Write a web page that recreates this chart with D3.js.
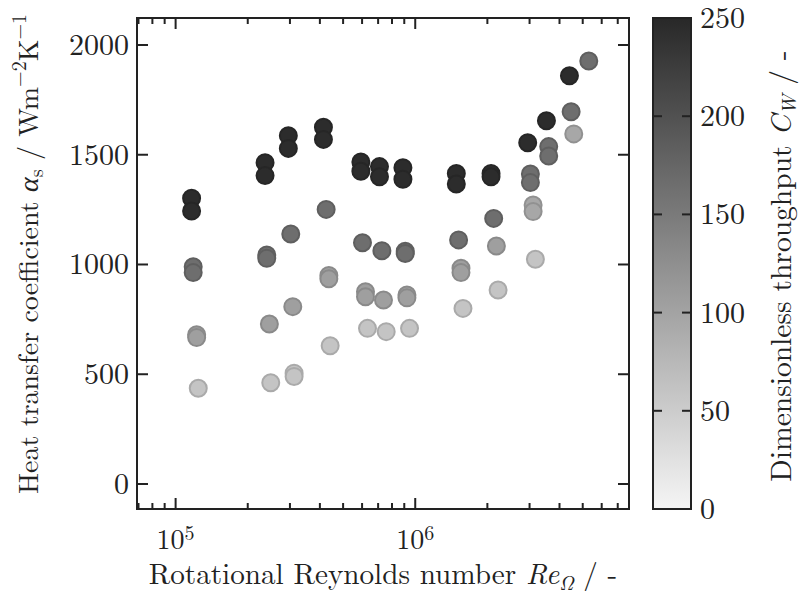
<!DOCTYPE html>
<html lang="en">
<head>
<meta charset="UTF-8">
<title>Heat transfer coefficient vs rotational Reynolds number</title>
<script src="https://cdn.jsdelivr.net/npm/d3@7/dist/d3.min.js"></script>
<style>
  body { margin: 0; background: #fff; }
  svg { display: block; font-family: 'Latin Modern Roman', 'Liberation Serif', serif; }
</style>
</head>
<body>
<svg id="chart" width="800" height="600"></svg>
<script>
  // rotational Reynolds number Re_Omega
  const reynolds = [
    1.166e5, 1.166e5, 1.184e5, 1.184e5, 1.224e5, 1.224e5, 1.243e5,
    2.362e5, 2.362e5, 2.401e5, 2.401e5, 2.462e5, 2.495e5,
    2.954e5, 2.954e5, 3.024e5, 3.083e5, 3.122e5, 3.122e5,
    4.139e5, 4.139e5, 4.248e5, 4.360e5, 4.360e5, 4.415e5,
    5.931e5, 5.931e5, 6.024e5, 6.200e5, 6.200e5, 6.321e5,
    7.093e5, 7.093e5, 7.258e5, 7.371e5, 7.565e5,
    8.884e5, 8.884e5, 9.083e5, 9.083e5, 9.233e5, 9.233e5, 9.467e5,
    1.484e6, 1.484e6, 1.517e6, 1.552e6, 1.552e6, 1.582e6,
    2.072e6, 2.072e6, 2.125e6, 2.181e6, 2.217e6,
    2.947e6, 3.024e6, 3.024e6, 3.104e6, 3.104e6, 3.173e6,
    3.528e6, 3.606e6, 3.606e6,
    4.401e6, 4.473e6, 4.587e6,
    5.300e6
  ];
  // heat transfer coefficient alpha_s in W m^-2 K^-1
  const alphaS = [
    1302, 1244, 990, 963, 680, 667, 436,
    1464, 1405, 1043, 1028, 729, 461,
    1587, 1529, 1139, 808, 505, 490,
    1625, 1570, 1251, 950, 935, 630,
    1467, 1425, 1099, 876, 853, 709,
    1446, 1400, 1063, 838, 694,
    1441, 1388, 1060, 1050, 861, 848, 709,
    1415, 1367, 1112, 983, 963, 800,
    1415, 1400, 1210, 1084, 884,
    1555, 1412, 1373, 1271, 1241, 1024,
    1655, 1537, 1494,
    1860, 1696, 1595,
    1927
  ];
  // dimensionless throughput C_W
  const throughput = [
    245, 245, 165, 165, 105, 105, 60,
    245, 245, 165, 165, 105, 60,
    245, 245, 165, 105, 60, 60,
    245, 245, 165, 105, 105, 60,
    245, 245, 165, 105, 105, 60,
    245, 245, 165, 105, 60,
    245, 245, 165, 165, 105, 105, 60,
    245, 245, 165, 105, 105, 60,
    245, 245, 165, 105, 60,
    245, 165, 165, 95, 95, 60,
    245, 165, 165,
    245, 165, 95,
    165
  ];

  const yTicks = [0, 500, 1000, 1500, 2000];
  const xTicks = [1e5, 1e6];
  const xTickExp = ["5", "6"];
  const cbTicks = [0, 50, 100, 150, 200, 250];

  const svg = d3.select("#chart");
  const ink = "#222";

  const plot = { left: 137, right: 629, top: 18, bottom: 509 };

  const x = d3.scaleLog().domain([6.9e4, 7.8e6]).range([plot.left, plot.right]);
  const y = d3.scaleLinear().domain([-114, 2123]).range([plot.bottom, plot.top]);
  const color = d3.scaleLinear().domain([0, 250]).range(["#f5f5f5", "#282828"]);

  const points = reynolds.map((re, i) => ({ re, a: alphaS[i], cw: throughput[i] }));

  // markers
  svg.append("g")
    .selectAll("circle")
    .data(points)
    .join("circle")
    .attr("cx", d => x(d.re))
    .attr("cy", d => y(d.a))
    .attr("r", 8.5)
    .attr("fill", d => color(d.cw))
    .attr("stroke", d => d3.color(color(d.cw)).darker(0.4))
    .attr("stroke-width", 2);

  // ticks (inside, all four sides)
  const minor = [];
  for (let e = 4; e <= 6; e++) {
    for (let k = 2; k <= 9; k++) {
      const v = k * Math.pow(10, e);
      if (v > x.domain()[0] && v < x.domain()[1]) minor.push(v);
    }
  }
  const tickG = svg.append("g").attr("stroke", ink).attr("stroke-width", 2);
  [[plot.bottom, -1], [plot.top, 1]].forEach(([yy, dir]) => {
    tickG.selectAll(null).data(xTicks).join("line")
      .attr("x1", d => x(d)).attr("x2", d => x(d))
      .attr("y1", yy).attr("y2", yy + dir * 11);
    tickG.selectAll(null).data(minor).join("line")
      .attr("x1", d => x(d)).attr("x2", d => x(d))
      .attr("y1", yy).attr("y2", yy + dir * 6);
  });
  [[plot.left, 1], [plot.right, -1]].forEach(([xx, dir]) => {
    tickG.selectAll(null).data(yTicks).join("line")
      .attr("x1", xx).attr("x2", xx + dir * 11)
      .attr("y1", d => y(d)).attr("y2", d => y(d));
  });

  // frame
  svg.append("rect")
    .attr("x", plot.left).attr("y", plot.top)
    .attr("width", plot.right - plot.left).attr("height", plot.bottom - plot.top)
    .attr("fill", "none").attr("stroke", ink).attr("stroke-width", 2);

  // tick labels
  svg.append("g").selectAll("text").data(yTicks).join("text")
    .attr("x", 129).attr("y", d => y(d)).attr("dy", "0.33em")
    .attr("text-anchor", "end").attr("font-size", 30).attr("fill", ink)
    .text(d => String(d));

  const xl = svg.append("g").selectAll("text").data(xTicks).join("text")
    .attr("x", d => x(d)).attr("y", 549)
    .attr("text-anchor", "middle").attr("font-size", 28).attr("fill", ink);
  xl.append("tspan").text("10");
  xl.append("tspan").attr("dy", "-0.45em").attr("font-size", 20).text((d, i) => xTickExp[i]);

  // axis labels
  const xlab = svg.append("text")
    .attr("x", (plot.left + plot.right) / 2).attr("y", 584)
    .attr("text-anchor", "middle").attr("font-size", 29.2).attr("fill", ink);
  xlab.append("tspan").text("Rotational Reynolds number ");
  xlab.append("tspan").attr("font-style", "italic").text("Re");
  xlab.append("tspan").attr("font-style", "italic").attr("font-size", 20).attr("dy", 6).text("Ω");
  xlab.append("tspan").attr("dy", -6).text(" / -");

  const ylab = svg.append("text")
    .attr("transform", "translate(38,254) rotate(-90)")
    .attr("text-anchor", "middle").attr("font-size", 28).attr("fill", ink);
  ylab.append("tspan").text("Heat transfer coefficient ");
  ylab.append("tspan").attr("font-style", "italic").text("α");
  ylab.append("tspan").attr("font-size", 20).attr("dy", 5).text("s");
  ylab.append("tspan").attr("dy", -5).text(" / Wm");
  ylab.append("tspan").attr("font-size", 20).attr("dy", -12).text("−2");
  ylab.append("tspan").attr("dy", 12).text("K");
  ylab.append("tspan").attr("font-size", 20).attr("dy", -12).text("−1");

  // colorbar
  const cb = { left: 653, right: 691 };
  const cbY = d3.scaleLinear().domain([0, 250]).range([plot.bottom, plot.top]);
  const grad = svg.append("defs").append("linearGradient")
    .attr("id", "cbGrad").attr("x1", 0).attr("y1", 1).attr("x2", 0).attr("y2", 0);
  grad.selectAll("stop").data(d3.range(0, 251, 25)).join("stop")
    .attr("offset", d => d / 250)
    .attr("stop-color", d => color(d));
  svg.append("rect")
    .attr("x", cb.left).attr("y", plot.top)
    .attr("width", cb.right - cb.left).attr("height", plot.bottom - plot.top)
    .attr("fill", "url(#cbGrad)").attr("stroke", ink).attr("stroke-width", 2);
  const cbTickG = svg.append("g").attr("stroke", ink).attr("stroke-width", 2);
  cbTickG.selectAll(null).data(cbTicks.slice(1, -1)).join("line")
    .attr("x1", cb.left).attr("x2", cb.left + 9)
    .attr("y1", d => cbY(d)).attr("y2", d => cbY(d));
  cbTickG.selectAll(null).data(cbTicks.slice(1, -1)).join("line")
    .attr("x1", cb.right).attr("x2", cb.right - 9)
    .attr("y1", d => cbY(d)).attr("y2", d => cbY(d));
  svg.append("g").selectAll("text").data(cbTicks).join("text")
    .attr("x", 700).attr("y", d => cbY(d)).attr("dy", "0.33em")
    .attr("font-size", 30).attr("fill", ink)
    .text(d => String(d));

  const cblab = svg.append("text")
    .attr("transform", "translate(791,266) rotate(-90)")
    .attr("text-anchor", "middle").attr("font-size", 29.5).attr("fill", ink);
  cblab.append("tspan").text("Dimensionless throughput ");
  cblab.append("tspan").attr("font-style", "italic").text("C");
  cblab.append("tspan").attr("font-style", "italic").attr("font-size", 20).attr("dy", 5).text("W");
  cblab.append("tspan").attr("dy", -5).text(" / -");
</script>
</body>
</html>
